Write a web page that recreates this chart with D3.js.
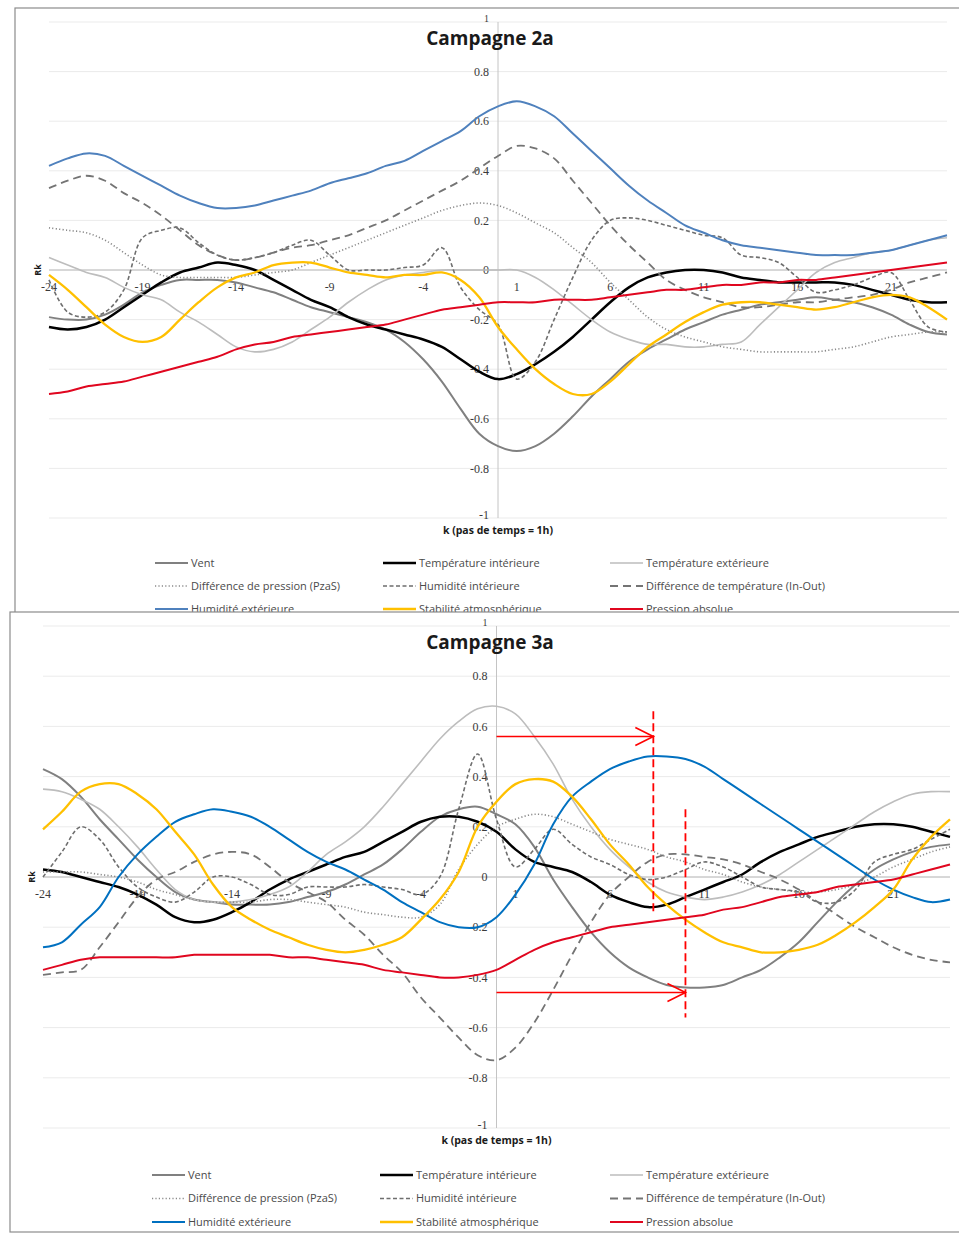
<!DOCTYPE html>
<meta charset="utf-8">
<style>
body {
  margin: 0;
  background-color: white;
}
svg {
  display: block;
  font-family: "Open Sans", sans-serif;
}
.frame { fill: white; stroke: #8c8c8c; stroke-width: 1.2; }
.grid line { stroke: #ebebeb; stroke-width: 1; }
.tick-label { font-family: "Liberation Serif", serif; font-size: 12px; fill: #3a3a3a; }
.title { font-size: 19px; font-weight: bold; fill: #1a1a1a; }
.axis-title { font-size: 10.5px; font-weight: bold; fill: #1a1a1a; }
.legend text { font-size: 11px; fill: #4a4a4a; }
.serie { fill: none; }
</style>
<script src="https://d3js.org/d3.v7.min.js"></script>
<body>
<script>

// categories : pas de temps k
var ks = d3.range(-24, 25);
var xTickValues = [-24, -19, -14, -9, -4, 1, 6, 11, 16, 21];
var yTickValues = [1, 0.8, 0.6, 0.4, 0.2, 0, -0.2, -0.4, -0.6, -0.8, -1];

var seriesNames = ["Vent", "Température intérieure", "Température extérieure",
  "Différence de pression (PzaS)", "Humidité intérieure", "Différence de température (In-Out)",
  "Humidité extérieure", "Stabilité atmosphérique", "Pression absolue"];

// Campagne 2a (k = -24 ... 24)
var vent2a = [-0.19,-0.2,-0.2,-0.18,-0.14,-0.09,-0.06,-0.04,-0.04,-0.04,
  -0.05,-0.07,-0.09,-0.12,-0.15,-0.17,-0.19,-0.21,-0.24,-0.29,
  -0.36,-0.45,-0.56,-0.66,-0.71,-0.73,-0.71,-0.66,-0.59,-0.51,
  -0.44,-0.37,-0.32,-0.28,-0.24,-0.21,-0.18,-0.16,-0.14,-0.13,
  -0.12,-0.11,-0.12,-0.13,-0.15,-0.18,-0.22,-0.25,-0.26];
var tempInt2a = [-0.23,-0.24,-0.23,-0.2,-0.15,-0.1,-0.05,-0.01,0.01,0.03,
  0.02,0.0,-0.04,-0.08,-0.12,-0.15,-0.19,-0.22,-0.24,-0.26,
  -0.28,-0.31,-0.36,-0.41,-0.44,-0.42,-0.38,-0.33,-0.27,-0.2,
  -0.13,-0.07,-0.03,-0.01,0.0,0.0,-0.01,-0.03,-0.04,-0.05,
  -0.05,-0.05,-0.05,-0.06,-0.08,-0.1,-0.12,-0.13,-0.13];
var tempExt2a = [0.05,0.02,-0.01,-0.03,-0.07,-0.1,-0.12,-0.17,-0.21,-0.26,
  -0.31,-0.33,-0.32,-0.29,-0.24,-0.19,-0.13,-0.08,-0.04,-0.02,
  -0.01,0.0,0.0,0.0,0.0,0.0,-0.03,-0.08,-0.14,-0.2,
  -0.25,-0.28,-0.3,-0.3,-0.31,-0.31,-0.3,-0.29,-0.22,-0.15,
  -0.08,-0.01,0.03,0.05,0.07,0.08,0.1,0.12,0.13];
var dPress2a = [0.17,0.16,0.15,0.12,0.07,0.02,-0.02,-0.03,-0.03,-0.03,
  -0.03,-0.02,-0.01,0.0,0.03,0.06,0.09,0.12,0.15,0.18,
  0.21,0.24,0.26,0.27,0.26,0.23,0.19,0.15,0.09,0.03,
  -0.05,-0.12,-0.19,-0.24,-0.27,-0.29,-0.31,-0.32,-0.33,-0.33,
  -0.33,-0.33,-0.32,-0.31,-0.29,-0.27,-0.26,-0.25,-0.25];
var humInt2a = [-0.04,-0.17,-0.19,-0.17,-0.08,0.13,0.16,0.17,0.11,0.06,
  0.04,0.05,0.07,0.1,0.12,0.06,0.0,0.0,0.0,0.01,
  0.02,0.09,-0.07,-0.16,-0.22,-0.44,-0.37,-0.2,-0.03,0.12,
  0.2,0.21,0.2,0.18,0.16,0.14,0.13,0.06,0.05,0.03,
  -0.03,-0.09,-0.08,-0.06,-0.03,-0.01,-0.12,-0.23,-0.25];
var diffT2a = [0.33,0.36,0.38,0.36,0.31,0.27,0.22,0.16,0.1,0.06,
  0.04,0.05,0.07,0.09,0.1,0.12,0.14,0.17,0.2,0.24,
  0.28,0.32,0.36,0.41,0.46,0.5,0.49,0.45,0.36,0.27,
  0.18,0.1,0.03,-0.04,-0.08,-0.11,-0.13,-0.15,-0.15,-0.14,
  -0.13,-0.13,-0.12,-0.11,-0.1,-0.08,-0.05,-0.03,-0.01];
var humExt2a = [0.42,0.45,0.47,0.46,0.42,0.38,0.34,0.3,0.27,0.25,
  0.25,0.26,0.28,0.3,0.32,0.35,0.37,0.39,0.42,0.44,
  0.48,0.52,0.56,0.62,0.66,0.68,0.66,0.62,0.55,0.48,
  0.41,0.34,0.28,0.23,0.18,0.15,0.12,0.1,0.09,0.08,
  0.07,0.06,0.06,0.06,0.07,0.08,0.1,0.12,0.14];
var stab2a = [-0.02,-0.08,-0.15,-0.22,-0.27,-0.29,-0.27,-0.2,-0.13,-0.07,
  -0.03,-0.01,0.02,0.03,0.03,0.01,-0.01,-0.02,-0.03,-0.02,
  -0.02,-0.01,-0.04,-0.11,-0.23,-0.32,-0.4,-0.46,-0.5,-0.5,
  -0.45,-0.38,-0.31,-0.26,-0.21,-0.17,-0.14,-0.13,-0.13,-0.14,
  -0.15,-0.16,-0.15,-0.13,-0.11,-0.1,-0.11,-0.15,-0.2];
var pAbs2a = [-0.5,-0.49,-0.47,-0.46,-0.45,-0.43,-0.41,-0.39,-0.37,-0.35,
  -0.32,-0.3,-0.29,-0.27,-0.26,-0.25,-0.24,-0.23,-0.22,-0.2,
  -0.18,-0.16,-0.15,-0.14,-0.13,-0.13,-0.13,-0.12,-0.12,-0.12,
  -0.11,-0.1,-0.09,-0.08,-0.08,-0.07,-0.06,-0.06,-0.05,-0.05,
  -0.04,-0.04,-0.03,-0.02,-0.01,0.0,0.01,0.02,0.03];

// Campagne 3a (k = -24 ... 24)
var vent3a = [0.43,0.39,0.32,0.23,0.15,0.07,0.0,-0.06,-0.09,-0.1,
  -0.11,-0.11,-0.11,-0.1,-0.08,-0.06,-0.03,0.01,0.05,0.11,
  0.18,0.24,0.27,0.28,0.25,0.21,0.12,-0.01,-0.12,-0.22,
  -0.3,-0.36,-0.4,-0.43,-0.44,-0.44,-0.43,-0.4,-0.37,-0.32,
  -0.26,-0.18,-0.1,-0.03,0.03,0.07,0.1,0.12,0.13];
var tempInt3a = [0.03,0.02,0.0,-0.02,-0.04,-0.07,-0.11,-0.16,-0.18,-0.17,
  -0.14,-0.1,-0.05,-0.01,0.02,0.05,0.08,0.1,0.14,0.18,
  0.22,0.24,0.24,0.22,0.18,0.11,0.06,0.04,0.02,-0.02,
  -0.07,-0.1,-0.12,-0.11,-0.08,-0.05,-0.02,0.01,0.06,0.1,
  0.13,0.16,0.18,0.2,0.21,0.21,0.2,0.18,0.16];
var tempExt3a = [0.35,0.34,0.31,0.27,0.2,0.12,0.03,-0.05,-0.09,-0.1,
  -0.1,-0.09,-0.07,-0.04,0.02,0.09,0.14,0.2,0.28,0.37,
  0.46,0.55,0.62,0.67,0.68,0.65,0.56,0.45,0.31,0.2,
  0.11,0.04,-0.02,-0.06,-0.08,-0.09,-0.08,-0.06,-0.03,0.01,
  0.06,0.11,0.16,0.21,0.26,0.3,0.33,0.34,0.34];
var dPress3a = [0.02,0.02,0.02,0.01,0.0,-0.02,-0.05,-0.07,-0.09,-0.1,
  -0.1,-0.1,-0.09,-0.09,-0.1,-0.11,-0.12,-0.14,-0.15,-0.16,
  -0.16,-0.11,0.03,0.13,0.2,0.23,0.25,0.24,0.21,0.18,
  0.15,0.13,0.11,0.08,0.06,0.03,0.01,-0.02,-0.04,-0.05,
  -0.06,-0.06,-0.05,-0.03,0.0,0.04,0.07,0.1,0.12];
var humInt3a = [0.0,0.1,0.2,0.15,0.04,-0.04,-0.08,-0.1,-0.06,0.0,
  0.0,-0.03,-0.07,-0.07,-0.04,-0.04,-0.04,-0.03,-0.04,-0.05,
  -0.07,0.0,0.27,0.49,0.23,0.04,0.11,0.19,0.13,0.08,
  0.05,0.01,-0.01,0.0,0.03,0.06,0.04,0.0,-0.04,-0.05,
  -0.06,-0.1,-0.1,-0.05,0.06,0.09,0.11,0.15,0.19];
var diffT3a = [-0.39,-0.38,-0.37,-0.28,-0.18,-0.08,-0.01,0.02,0.06,0.09,
  0.1,0.09,0.04,-0.02,-0.06,-0.1,-0.17,-0.23,-0.31,-0.38,
  -0.48,-0.56,-0.64,-0.71,-0.73,-0.68,-0.58,-0.45,-0.31,-0.18,
  -0.07,0.0,0.06,0.09,0.09,0.08,0.07,0.05,0.02,-0.01,
  -0.05,-0.1,-0.15,-0.2,-0.24,-0.28,-0.31,-0.33,-0.34];
var humExt3a = [-0.28,-0.26,-0.19,-0.12,0.0,0.09,0.16,0.22,0.25,0.27,
  0.26,0.24,0.2,0.15,0.1,0.06,0.03,-0.01,-0.05,-0.1,
  -0.14,-0.18,-0.2,-0.2,-0.16,-0.07,0.05,0.21,0.32,0.38,
  0.43,0.46,0.48,0.48,0.47,0.44,0.39,0.34,0.29,0.24,
  0.19,0.14,0.09,0.04,-0.01,-0.05,-0.08,-0.1,-0.09];
var stab3a = [0.19,0.26,0.34,0.37,0.37,0.33,0.27,0.18,0.09,-0.03,
  -0.12,-0.17,-0.21,-0.24,-0.27,-0.29,-0.3,-0.29,-0.27,-0.24,
  -0.17,-0.09,0.02,0.2,0.3,0.37,0.39,0.38,0.32,0.23,
  0.13,0.05,-0.04,-0.11,-0.17,-0.22,-0.26,-0.28,-0.3,-0.3,
  -0.29,-0.27,-0.23,-0.18,-0.12,-0.05,0.07,0.16,0.23];
var pAbs3a = [-0.37,-0.35,-0.33,-0.32,-0.32,-0.32,-0.32,-0.32,-0.31,-0.31,
  -0.31,-0.31,-0.31,-0.32,-0.32,-0.33,-0.34,-0.35,-0.37,-0.38,
  -0.39,-0.4,-0.4,-0.39,-0.37,-0.33,-0.29,-0.26,-0.24,-0.22,
  -0.2,-0.19,-0.18,-0.17,-0.16,-0.15,-0.13,-0.12,-0.1,-0.08,
  -0.07,-0.06,-0.04,-0.03,-0.02,-0.01,0.01,0.03,0.05];

// repères rouges ajoutés sur la campagne 3a (k, Rk)
var arrows3a = [{k0: 0, k1: 8.3, v: 0.56}, {k0: 0, k1: 10, v: -0.46}];
var marks3a = [{k: 8.3, v0: 0.66, v1: -0.15}, {k: 10, v0: 0.27, v1: -0.56}];

// line styles, same order as seriesNames
var styles = [
  {color: "#808080", width: 2, dash: null},
  {color: "#000000", width: 2.5, dash: null},
  {color: "#bdbdbd", width: 1.6, dash: null},
  {color: "#8a8a8a", width: 1.6, dash: "1.2,2.2"},
  {color: "#6e6e6e", width: 1.6, dash: "4,2.5"},
  {color: "#747474", width: 1.8, dash: "8,5"},
  {color: "#4f81bd", width: 2, dash: null},
  {color: "#ffc000", width: 2.3, dash: null},
  {color: "#e0061f", width: 2, dash: null}
];

var panels = [
  {title: "Campagne 2a", frame: [15, 8, 980, 700], xr: [49, 947], yr: [518, 22],
   legendTop: 563, legendStep: 23, legendCols: [155, 383, 610], blue: "#4f81bd",
   data: [vent2a, tempInt2a, tempExt2a, dPress2a, humInt2a, diffT2a, humExt2a, stab2a, pAbs2a]},
  {title: "Campagne 3a", frame: [10, 612, 985, 620], xr: [43, 950], yr: [1128, 626],
   legendTop: 1175, legendStep: 23.5, legendCols: [152, 380, 610], blue: "#0070c0",
   data: [vent3a, tempInt3a, tempExt3a, dPress3a, humInt3a, diffT3a, humExt3a, stab3a, pAbs3a],
   arrows: arrows3a, marks: marks3a}
];

var svg = d3.select("body").append("svg")
    .attr("width", 959)
    .attr("height", 1234);

panels.forEach(function(p) {
  var g = svg.append("g");

  g.append("rect")
      .attr("class", "frame")
      .attr("x", p.frame[0])
      .attr("y", p.frame[1])
      .attr("width", p.frame[2])
      .attr("height", p.frame[3]);

  var x = d3.scaleLinear().domain([-24, 24]).range(p.xr);
  var y = d3.scaleLinear().domain([-1, 1]).range(p.yr);

  // gridlines
  g.append("g").attr("class", "grid")
    .selectAll("line")
      .data(yTickValues.filter(function(v) { return v !== 0; }))
    .enter().append("line")
      .attr("x1", p.xr[0]).attr("x2", p.xr[1])
      .attr("y1", function(d) { return y(d); })
      .attr("y2", function(d) { return y(d); });

  // horizontal axis at Rk = 0 and vertical axis at k = 0
  g.append("line")
      .attr("x1", p.xr[0]).attr("x2", p.xr[1])
      .attr("y1", y(0)).attr("y2", y(0))
      .attr("stroke", "#b0b0b0");
  g.append("line")
      .attr("x1", x(0)).attr("x2", x(0))
      .attr("y1", y(1)).attr("y2", y(-1))
      .attr("stroke", "#c4c4c4");

  // y tick labels (1 and -1 nudged off the title texts)
  g.selectAll(".ylab")
      .data(yTickValues)
    .enter().append("text")
      .attr("class", "tick-label")
      .attr("x", x(0) - 9)
      .attr("y", function(d) { return d === 1 ? y(d) - 4 : d === -1 ? y(d) - 3 : y(d); })
      .attr("dy", "0.35em")
      .style("font-size", function(d) { return d === 1 ? "10px" : null; })
      .style("text-anchor", "end")
      .text(function(d) { return String(d); });

  // x tick labels
  g.selectAll(".xlab")
      .data(xTickValues)
    .enter().append("text")
      .attr("class", "tick-label")
      .attr("x", function(d) { return x(d); })
      .attr("y", y(0) + 21)
      .style("text-anchor", "middle")
      .text(function(d) { return String(d); });

  g.append("text")
      .attr("class", "title")
      .attr("x", 490)
      .attr("y", y(1) + 23)
      .style("text-anchor", "middle")
      .text(p.title);

  g.append("text")
      .attr("class", "axis-title")
      .attr("x", x(0))
      .attr("y", y(-1) + 16)
      .style("text-anchor", "middle")
      .text("k (pas de temps = 1h)");

  g.append("text")
      .attr("class", "axis-title")
      .attr("transform", "translate(" + (p.xr[0] - 8) + "," + y(0) + ") rotate(-90)")
      .style("font-size", "9px")
      .style("text-anchor", "middle")
      .text("Rk");

  // series
  var line = d3.line()
      .x(function(d, i) { return x(ks[i]); })
      .y(function(d) { return y(d); })
      .curve(d3.curveCatmullRom.alpha(0.5));

  p.data.forEach(function(values, i) {
    var s = styles[i];
    g.append("path")
        .datum(values)
        .attr("class", "serie")
        .attr("d", line)
        .attr("stroke", i === 6 ? p.blue : s.color)
        .attr("stroke-width", s.width)
        .attr("stroke-dasharray", s.dash)
        .attr("stroke-linejoin", "round");
  });

  // red annotations
  if (p.arrows) {
    p.arrows.forEach(function(a) {
      var xe = x(a.k1), ya = y(a.v);
      g.append("line")
          .attr("x1", x(a.k0)).attr("x2", xe)
          .attr("y1", ya).attr("y2", ya)
          .attr("stroke", "#ff0000").attr("stroke-width", 1.6);
      g.append("path")
          .attr("d", "M" + (xe - 18) + "," + (ya - 9) + "L" + xe + "," + ya + "L" + (xe - 18) + "," + (ya + 9))
          .attr("fill", "none")
          .attr("stroke", "#ff0000").attr("stroke-width", 1.6);
    });
    p.marks.forEach(function(m) {
      g.append("line")
          .attr("x1", x(m.k)).attr("x2", x(m.k))
          .attr("y1", y(m.v0)).attr("y2", y(m.v1))
          .attr("stroke", "#ff0000").attr("stroke-width", 1.8)
          .attr("stroke-dasharray", "8,4");
    });
  }

  // legend
  var legend = g.selectAll(".legend")
      .data(seriesNames)
    .enter().append("g")
      .attr("class", "legend")
      .attr("transform", function(d, i) {
        return "translate(" + p.legendCols[i % 3] + "," + (p.legendTop + Math.floor(i / 3) * p.legendStep) + ")";
      });

  legend.append("line")
      .attr("x1", 0).attr("x2", 33)
      .attr("y1", 0).attr("y2", 0)
      .attr("stroke", function(d, i) { return i === 6 ? p.blue : styles[i].color; })
      .attr("stroke-width", function(d, i) { return styles[i].width; })
      .attr("stroke-dasharray", function(d, i) { return styles[i].dash; });

  legend.append("text")
      .attr("x", 36)
      .attr("y", 0)
      .attr("dy", "0.35em")
      .text(function(d) { return d; });
});

</script>
